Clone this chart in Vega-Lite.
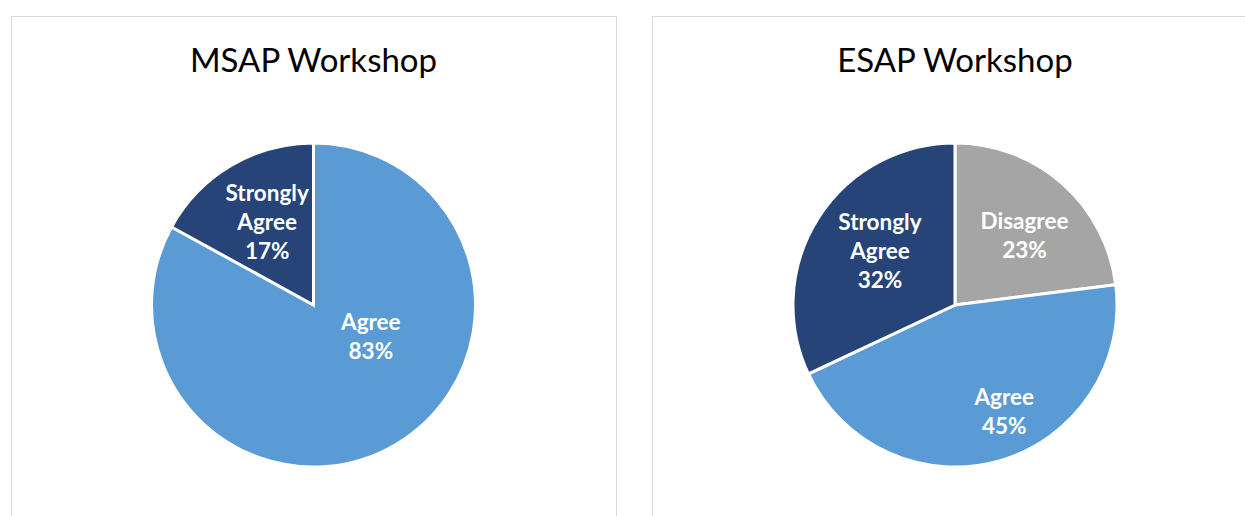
{
  "$schema": "https://vega.github.io/schema/vega-lite/v6.json",
  "padding": {"left": 10, "top": 15, "right": 0, "bottom": 0},
  "background": "white",
  "spacing": 34,
  "config": {
    "view": {"stroke": "#d9d9d9", "strokeWidth": 1},
    "font": "Lato",
    "title": {"font": "Lato", "fontSize": 33, "fontWeight": "normal", "color": "#000000", "anchor": "middle", "baseline": "alphabetic", "offset": -63},
    "text": {"fontSize": 22.5, "fontWeight": "bold", "fill": "white", "lineHeight": 29, "lineBreak": "\n", "align": "center", "baseline": "middle"}
  },
  "hconcat": [
    {
      "width": 605,
      "height": 578,
      "view": {"stroke": "#d9d9d9", "strokeWidth": 1},
      "title": {"text": "MSAP Workshop"},
      "data": {"values": [
        {"cat": "Agree", "pct": 83, "ord": 1, "label": "Agree\n83%"},
        {"cat": "Strongly Agree", "pct": 17, "ord": 2, "label": "Strongly\nAgree\n17%"}
      ]},
      "encoding": {
        "theta": {"field": "pct", "type": "quantitative", "stack": true},
        "order": {"field": "ord", "type": "quantitative"}
      },
      "layer": [
        {
          "mark": {"type": "arc", "outerRadius": 162, "stroke": "white", "strokeWidth": 3},
          "encoding": {
            "color": {"field": "cat", "type": "nominal", "legend": null,
              "scale": {"domain": ["Agree", "Strongly Agree", "Disagree"], "range": ["#5B9BD5", "#264478", "#A5A5A5"]}}
          }
        },
        {
          "mark": {"type": "text", "radius": 95, "dx": 2, "dy": -29},
          "encoding": {
            "text": {"field": "label"},
            "opacity": {"condition": {"test": "datum.cat === 'Strongly Agree'", "value": 1}, "value": 0}
          }
        },
        {
          "mark": {"type": "text", "radius": 36, "dx": 39, "dy": -13},
          "encoding": {
            "text": {"field": "label"},
            "opacity": {"condition": {"test": "datum.cat === 'Agree'", "value": 1}, "value": 0}
          }
        }
      ]
    },
    {
      "width": 606,
      "height": 578,
      "view": {"stroke": "#d9d9d9", "strokeWidth": 1},
      "title": {"text": "ESAP Workshop"},
      "data": {"values": [
        {"cat": "Disagree", "pct": 23, "ord": 1, "label": "Disagree\n23%"},
        {"cat": "Agree", "pct": 45, "ord": 2, "label": "Agree\n45%"},
        {"cat": "Strongly Agree", "pct": 32, "ord": 3, "label": "Strongly\nAgree\n32%"}
      ]},
      "encoding": {
        "theta": {"field": "pct", "type": "quantitative", "stack": true},
        "order": {"field": "ord", "type": "quantitative"}
      },
      "layer": [
        {
          "mark": {"type": "arc", "outerRadius": 162, "stroke": "white", "strokeWidth": 3},
          "encoding": {
            "color": {"field": "cat", "type": "nominal", "legend": null,
              "scale": {"domain": ["Agree", "Strongly Agree", "Disagree"], "range": ["#5B9BD5", "#264478", "#A5A5A5"]}}
          }
        },
        {
          "mark": {"type": "text", "radius": 96, "dx": 6, "dy": -11},
          "encoding": {
            "text": {"field": "label"},
            "opacity": {"condition": {"test": "datum.cat === 'Disagree'", "value": 1}, "value": 0}
          }
        },
        {
          "mark": {"type": "text", "radius": 96, "dx": 6, "dy": -31},
          "encoding": {
            "text": {"field": "label"},
            "opacity": {"condition": {"test": "datum.cat === 'Strongly Agree'", "value": 1}, "value": 0}
          }
        },
        {
          "mark": {"type": "text", "radius": 112, "dx": 18, "dy": -15},
          "encoding": {
            "text": {"field": "label"},
            "opacity": {"condition": {"test": "datum.cat === 'Agree'", "value": 1}, "value": 0}
          }
        }
      ]
    }
  ]
}
